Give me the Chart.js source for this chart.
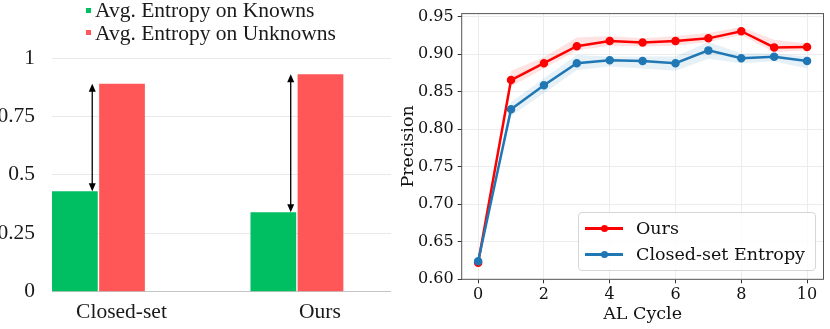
<!DOCTYPE html>
<html lang="en">
<head>
<meta charset="UTF-8">
<title>Entropy and Precision</title>
<script src="https://cdn.jsdelivr.net/npm/chart.js"></script>
<style>
    body { margin: 0; background: #fff; }
    .wrap { position: relative; width: 830px; height: 329px; overflow: hidden; }
    #barChart { position: absolute; left: 0; top: 0; }
    #lineChart { position: absolute; left: 390px; top: 0; }

    /* legend of the bar chart */
    .bar-legend { position: absolute; left: 86px; top: -1px; font-family: "Times New Roman", "Liberation Serif", Times, serif; font-size: 21.5px; color: #1a1a1a; }
    .bar-legend .row { height: 22.5px; line-height: 22.5px; display: flex; align-items: center; white-space: nowrap; }
    .bar-legend .sw { width: 5px; height: 5px; margin-right: 4px; display: inline-block; }

    /* legend of the line chart */
    .line-legend { position: absolute; left: 578px; top: 212px; width: 236px; height: 57px; border: 1px solid #d6d6d6; border-radius: 4px; background: rgba(255,255,255,0.85); font-family: "DejaVu Serif", serif; font-size: 17.5px; color: #111; }
    .line-legend .row { position: absolute; left: 0; height: 22px; line-height: 22px; white-space: nowrap; }
    .line-legend .sample { position: absolute; left: 6px; top: 10px; width: 38px; height: 2.5px; }
    .line-legend .dot { position: absolute; left: 16px; top: -2.5px; width: 7px; height: 7px; border-radius: 50%; }
    .line-legend .txt { position: absolute; left: 57px; top: 0; }
</style>
</head>
<body>
<div class="wrap">
    <canvas id="barChart" width="395" height="329"></canvas>
    <canvas id="lineChart" width="440" height="329"></canvas>

    <div class="bar-legend">
        <div class="row"><span class="sw" style="background:#00bf63"></span>Avg. Entropy on Knowns</div>
        <div class="row"><span class="sw" style="background:#ff5757"></span>Avg. Entropy on Unknowns</div>
    </div>

    <div class="line-legend">
        <div class="row" style="top:4px">
            <div class="sample" style="background:#ff0000"><div class="dot" style="background:#ff0000"></div></div>
            <span class="txt">Ours</span>
        </div>
        <div class="row" style="top:30px">
            <div class="sample" style="background:#1f77b4"><div class="dot" style="background:#1f77b4"></div></div>
            <span class="txt">Closed-set Entropy</span>
        </div>
    </div>
</div>

<script>
    // left panel: average entropy
    const categories = ['Closed-set', 'Ours'];
    const knownEntropy = [0.43, 0.34];
    const unknownEntropy = [0.89, 0.93];

    // right panel: precision per AL cycle
    const cycles = [0, 1, 2, 3, 4, 5, 6, 7, 8, 9, 10];
    const oursPrecision = [0.622, 0.8655, 0.888, 0.9105, 0.9175, 0.9155, 0.9175, 0.921, 0.9305, 0.909, 0.9095];
    const oursUpper = [0.623, 0.878, 0.896, 0.922, 0.924, 0.921, 0.924, 0.928, 0.936, 0.919, 0.914];
    const oursLower = [0.621, 0.857, 0.881, 0.905, 0.911, 0.910, 0.911, 0.916, 0.925, 0.903, 0.905];
    const closedPrecision = [0.624, 0.8265, 0.8585, 0.888, 0.892, 0.891, 0.888, 0.905, 0.8945, 0.8965, 0.891];
    const closedUpper = [0.625, 0.836, 0.868, 0.899, 0.897, 0.897, 0.897, 0.916, 0.901, 0.901, 0.897];
    const closedLower = [0.623, 0.818, 0.848, 0.879, 0.8835, 0.881, 0.878, 0.894, 0.888, 0.8905, 0.881];

    const barFont = { family: '"Times New Roman", "Liberation Serif", Times, serif', size: 21.5 };
    const lineFont = { family: '"DejaVu Serif", serif', size: 16 };
    const LABEL_SHIFT = 0.116; // category labels sit a bit right of the bar pairs

    // double headed arrows between the two bars
    const arrowPlugin = {
        id: 'gapArrows',
        afterDatasetsDraw(chart) {
            const ctx = chart.ctx;
            const yScale = chart.scales.y;
            const bars = chart.getDatasetMeta(0).data;
            const head = (x, yTip, dir) => {
                ctx.beginPath();
                ctx.moveTo(x, yTip);
                ctx.lineTo(x - 3.5, yTip + dir * 8);
                ctx.lineTo(x + 3.5, yTip + dir * 8);
                ctx.closePath();
                ctx.fill();
            };
            ctx.save();
            ctx.strokeStyle = '#000';
            ctx.fillStyle = '#000';
            ctx.lineWidth = 1.3;
            bars.forEach((bar, i) => {
                const x = bar.x + bar.width / 2 - 5.5;
                const yLow = yScale.getPixelForValue(knownEntropy[i]);
                const yHigh = yScale.getPixelForValue(unknownEntropy[i]);
                ctx.beginPath();
                ctx.moveTo(x, yLow - 6);
                ctx.lineTo(x, yHigh + 6);
                ctx.stroke();
                head(x, yHigh, 1);
                head(x, yLow, -1);
            });
            ctx.restore();
        }
    };

    new Chart(document.getElementById('barChart'), {
        type: 'bar',
        data: {
            datasets: [{
                label: 'Avg. Entropy on Knowns',
                data: categories.map((c, i) => ({ x: i, y: knownEntropy[i] })),
                backgroundColor: '#00bf63'
            }, {
                label: 'Avg. Entropy on Unknowns',
                data: categories.map((c, i) => ({ x: i, y: unknownEntropy[i] })),
                backgroundColor: '#ff5757'
            }]
        },
        options: {
            responsive: false,
            animation: false,
            categoryPercentage: 0.475,
            barPercentage: 0.97,
            layout: { padding: { top: 58, right: 4, left: 0, bottom: 0 } },
            plugins: { legend: { display: false }, tooltip: { enabled: false } },
            scales: {
                x: {
                    type: 'linear',
                    offset: false,
                    min: -0.234,
                    max: 1.474,
                    grid: { display: false },
                    border: { display: false },
                    afterBuildTicks: (axis) => {
                        axis.ticks = categories.map((c, i) => ({ value: i + LABEL_SHIFT }));
                    },
                    afterFit: (axis) => { axis.height = 37.3; },
                    ticks: {
                        padding: 0,
                        maxRotation: 0,
                        font: barFont,
                        color: '#1a1a1a',
                        callback: (v, i) => categories[i]
                    }
                },
                y: {
                    min: 0,
                    max: 1,
                    border: { display: false },
                    grid: {
                        drawTicks: false,
                        color: (c) => c.tick && c.tick.value === 0 ? '#c4c4c4' : '#e9e9e9'
                    },
                    afterFit: (axis) => { axis.width = 52; },
                    ticks: {
                        stepSize: 0.25,
                        padding: 17,
                        font: barFont,
                        color: '#1a1a1a',
                        callback: (v) => String(+v.toFixed(2))
                    }
                }
            }
        },
        plugins: [arrowPlugin]
    });

    // frame around the precision plot
    const framePlugin = {
        id: 'frame',
        afterDraw(chart) {
            const { left, top, right, bottom } = chart.chartArea;
            const ctx = chart.ctx;
            ctx.save();
            ctx.strokeStyle = '#555';
            ctx.lineWidth = 1;
            ctx.strokeRect(left, top, right - left, bottom - top);
            ctx.restore();
        }
    };

    const toPoints = (vals) => cycles.map((c, i) => ({ x: c, y: vals[i] }));

    new Chart(document.getElementById('lineChart'), {
        type: 'line',
        data: {
            datasets: [{
                label: 'Closed-set Entropy',
                data: toPoints(closedPrecision),
                borderColor: '#1f77b4',
                backgroundColor: '#1f77b4',
                borderWidth: 2.5,
                pointRadius: 3,
                fill: false
            }, {
                label: 'Ours',
                data: toPoints(oursPrecision),
                borderColor: '#ff0000',
                backgroundColor: '#ff0000',
                borderWidth: 2.5,
                pointRadius: 3,
                fill: false
            }, {
                label: 'ours-upper',
                data: toPoints(oursUpper),
                borderWidth: 0,
                pointRadius: 0,
                backgroundColor: 'rgba(255,0,0,0.11)',
                fill: '+1'
            }, {
                label: 'ours-lower',
                data: toPoints(oursLower),
                borderWidth: 0,
                pointRadius: 0,
                fill: false
            }, {
                label: 'closed-upper',
                data: toPoints(closedUpper),
                borderWidth: 0,
                pointRadius: 0,
                backgroundColor: 'rgba(31,119,180,0.11)',
                fill: '+1'
            }, {
                label: 'closed-lower',
                data: toPoints(closedLower),
                borderWidth: 0,
                pointRadius: 0,
                fill: false
            }]
        },
        options: {
            responsive: false,
            animation: false,
            layout: { padding: { top: 9.7, right: 5.7, left: 0, bottom: 0 } },
            plugins: { legend: { display: false }, tooltip: { enabled: false } },
            scales: {
                x: {
                    type: 'linear',
                    min: -0.5,
                    max: 10.5,
                    border: { display: false },
                    grid: { color: '#ececec', tickColor: '#333', tickLength: 4 },
                    afterBuildTicks: (axis) => {
                        axis.ticks = cycles.filter(c => c % 2 === 0).map(c => ({ value: c }));
                    },
                    afterFit: (axis) => { axis.height = 49.7; },
                    title: { display: true, text: 'AL Cycle', font: { family: '"DejaVu Serif", serif', size: 17.5 }, color: '#111', padding: { top: 0, bottom: 4 } },
                    ticks: { padding: 2, maxRotation: 0, font: lineFont, color: '#111' }
                },
                y: {
                    min: 0.6,
                    max: 0.954,
                    border: { display: false },
                    grid: { color: '#ececec', tickColor: '#333', tickLength: 4 },
                    afterFit: (axis) => { axis.width = 71.7; },
                    title: { display: true, text: 'Precision', font: { family: '"DejaVu Serif", serif', size: 17.5 }, color: '#111', padding: { top: 8, bottom: 0 } },
                    ticks: {
                        stepSize: 0.05,
                        includeBounds: false,
                        padding: 4,
                        font: lineFont,
                        color: '#111',
                        callback: (v) => v.toFixed(2)
                    }
                }
            }
        },
        plugins: [framePlugin]
    });
</script>
</body>
</html>
